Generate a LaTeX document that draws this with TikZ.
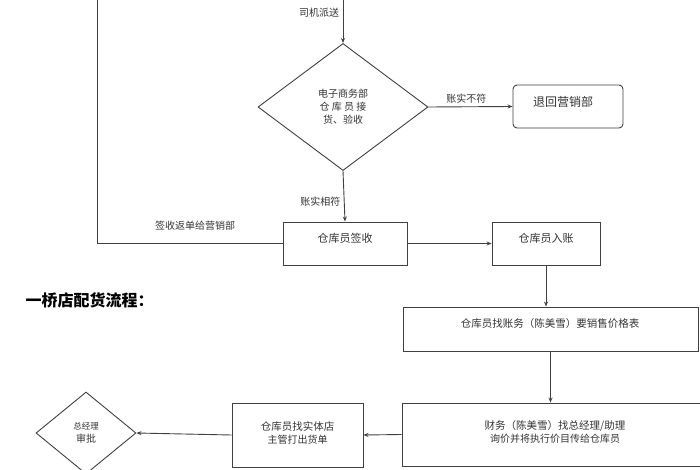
\documentclass[tikz,border=0pt]{standalone}
\usepackage{fontspec}
\usepackage{tikz}
\usetikzlibrary{shapes.geometric,arrows.meta}
\newfontfamily\cjk{Noto Sans CJK SC}
\begin{document}
\begin{tikzpicture}[x=1pt,y=-1pt,
  every node/.style={font=\cjk\fontsize{10}{13}\selectfont, text=black!80},
  box/.style={draw=black!75, line width=0.9pt, inner sep=0},
  ln/.style={draw=black!75, line width=0.9pt},
  ar/.style={ln, -{Stealth[length=5pt,width=4pt]}}]
\useasboundingbox (0,0) rectangle (700,470);
\node[box, minimum width=124, minimum height=43] (qs) at (345,243.5) {};
\node at (345,238) {\fontsize{11}{13}\selectfont 仓库员签收};
\node[box, minimum width=108, minimum height=43] (rz) at (546,243.5) {};
\node at (546,238) {\fontsize{11}{13}\selectfont 仓库员入账};
\node[box, diamond, aspect=1.34, minimum width=170, minimum height=127] (d1) at (343,107) {};
\node[align=center] at (343,107) {电子商务部\\仓\ 库\ 员\ 接\\货、验收};
\node[box, rounded corners=4pt, minimum width=110, minimum height=43] (th) at (568,106.5) {};
\node at (563,102) {\fontsize{12}{13}\selectfont 退回营销部};
\node[box, minimum width=295, minimum height=44] (zw) at (550.5,329) {};
\node at (550,324) {\fontsize{10.5}{13}\selectfont 仓库员找账务（陈美雪）要销售价格表};
\node[box, minimum width=300, minimum height=63] (cw) at (552,434.5) {};
\node[align=center] at (555,432) {\fontsize{10.5}{15}\selectfont 财务（陈美雪）找总经理/助理\\询价并将执行价目传给仓库员};
\node[box, minimum width=131, minimum height=64] (st) at (297.5,435) {};
\node[align=center] at (297.5,433) {\fontsize{10.5}{15}\selectfont 仓库员找实体店\\主管打出货单};
\node[box, diamond, aspect=1.25, minimum width=100, minimum height=82] (zj) at (86,433) {};
\node[align=center] at (86,433) {\fontsize{8.5}{14}\selectfont 总经理\\审批};
\node[font=\cjk\bfseries\fontsize{16}{18}\selectfont, text=black, anchor=west] (h) at (22,300) {一桥店配货流程：};
\coordinate (top1) at (343,0);
\coordinate (top2) at (97,0);
\coordinate (c2) at (97,243.5);
\draw[ar] (top1) -- node[left, pos=0.3]{司机派送} (d1.north);
\draw[ar] (d1.east) -- node[above, pos=0.45]{账实不符} (th.west);
\draw[ar] (d1.south) -- node[left, pos=0.6]{账实相符} (qs.north);
\draw[ln] (qs.west) -- (c2) -- (top2);
\node at (195,226) {签收返单给营销部};
\draw[ar] (qs.east) -- (rz.west);
\draw[ar] (rz.south) -- (rz.south |- zw.north);
\draw[ar] (zw.south) -- (zw.south |- cw.north);
\draw[ar] (cw.west) -- (st.east);
\draw[ar] (st.west) -- (zj.east);
\end{tikzpicture}
\end{document}
